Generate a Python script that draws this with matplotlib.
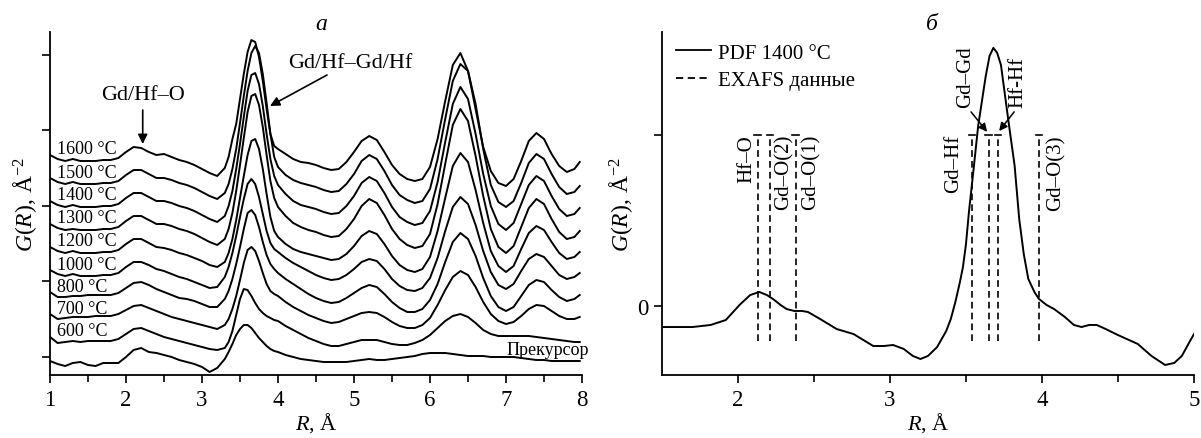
import matplotlib
matplotlib.use("Agg")
import matplotlib.pyplot as plt
from matplotlib.lines import Line2D

plt.rcParams['font.family'] = ['Liberation Serif', 'DejaVu Serif']
plt.rcParams['mathtext.fontset'] = 'custom'
plt.rcParams['mathtext.rm'] = 'Liberation Serif'
plt.rcParams['mathtext.it'] = 'Liberation Serif:italic'
plt.rcParams['mathtext.bf'] = 'Liberation Serif:bold'

# ---------------- Panel a: stacked G(R) curves (relative to each curve's start) ----------------
RA = [1.0, 1.1, 1.2, 1.3, 1.4, 1.5, 1.6, 1.7, 1.8, 1.9,
      2.0, 2.1, 2.2, 2.3, 2.4, 2.5, 2.6, 2.7, 2.8, 2.9,
      3.0, 3.1, 3.2, 3.3, 3.35, 3.4, 3.45, 3.5, 3.55, 3.6,
      3.65, 3.7, 3.75, 3.8, 3.85, 3.9, 3.95, 4.0, 4.1, 4.2,
      4.3, 4.4, 4.5, 4.6, 4.7, 4.8, 4.9, 5.0, 5.1, 5.2,
      5.3, 5.4, 5.5, 5.6, 5.7, 5.8, 5.9, 6.0, 6.1, 6.2,
      6.3, 6.4, 6.5, 6.6, 6.7, 6.8, 6.9, 7.0, 7.1, 7.2,
      7.3, 7.4, 7.5, 7.6, 7.7, 7.8, 7.9, 7.97]

g_pre = [0, -3, -5, -2, -1, -4, -5, -2, -2, -2,
         4, 11, 13, 9, 8, 6, 4, 1, -1, -3,
         -6, -11, -7, 2, 9, 17, 26, 32, 36, 36,
         33, 28, 23, 19, 15, 12, 10, 9, 6, 4,
         2, 1, 0, -1, -1, -1, -1, 0, 1, 2,
         1, 1, 2, 3, 4, 5, 7, 8, 8, 8,
         7, 6, 5, 5, 5, 4, 4, 4, 4, 3,
         2, 1, 1, 0, 0, 0, 0, 0]
g_600 = [0, -6, -5, -4, -5, -4, -4, -4, -4, -2,
         3, 8, 9, 6, 3, 0, -2, -4, -6, -8,
         -10, -12, -13, -11, -5, 6, 22, 38, 48, 47,
         41, 34, 28, 24, 21, 19, 17, 16, 11, 7,
         3, -1, -4, -7, -9, -9, -7, -5, -3, -3,
         -3, -5, -7, -8, -8, -6, -3, 2, 9, 16,
         21, 23, 20, 14, 7, 3, 1, 1, 1, 1,
         1, 0, -1, -2, -3, -4, -5, -5]
g_700 = [0, -5, -4, -3, -3, -3, -2, -2, -2, 0,
         4, 8, 9, 6, 3, 0, -3, -5, -7, -9,
         -11, -13, -15, -11, -5, 5, 18, 34, 51, 64,
         67, 63, 53, 41, 30, 23, 20, 18, 12, 7,
         3, -1, -4, -7, -9, -8, -5, -2, 1, 2,
         1, -3, -8, -12, -14, -14, -11, -4, 9, 24,
         37, 43, 39, 27, 12, 0, -7, -10, -8, -2,
         5, 9, 8, 3, -2, -5, -5, -3]
g_800 = [0, -5, -5, -4, -4, -3, -3, -3, -3, -1,
         4, 9, 10, 7, 3, 0, -3, -6, -7, -9,
         -12, -15, -15, -7, 1, 13, 28, 45, 63, 79,
         82, 77, 65, 50, 37, 28, 23, 19, 13, 8,
         3, -2, -6, -9, -11, -10, -6, -1, 4, 7,
         5, -2, -10, -16, -20, -20, -17, -8, 8, 30,
         50, 59, 53, 36, 14, -4, -15, -19, -15, -4,
         7, 12, 10, 2, -5, -9, -7, -3]
g_1000 = [0, -4, -6, -4, -6, -6, -6, -5, -5, -3,
          3, 8, 8, 5, 1, -1, -4, -7, -9, -12,
          -15, -18, -17, -7, 3, 17, 34, 53, 71, 86,
          91, 86, 73, 56, 39, 27, 21, 18, 12, 7,
          3, -1, -5, -8, -10, -9, -5, 1, 8, 11,
          9, 1, -9, -16, -20, -21, -18, -8, 12, 39,
          63, 73, 66, 45, 19, -2, -15, -19, -14, -1,
          11, 16, 13, 4, -5, -9, -7, -3]
g_1200 = [0, -4, -6, -4, -6, -6, -6, -5, -5, -3,
          3, 8, 8, 4, 0, -1, -3, -6, -8, -11,
          -14, -18, -20, -15, -6, 8, 27, 49, 71, 92,
          106, 108, 98, 78, 53, 30, 16, 10, 3, -2,
          -5, -7, -9, -11, -13, -12, -7, 1, 11, 16,
          13, 3, -9, -18, -23, -25, -22, -10, 16, 49,
          81, 94, 85, 57, 24, -4, -19, -25, -19, -2,
          14, 21, 17, 5, -6, -12, -10, -5]
g_1300 = [0, -4, -6, -5, -6, -6, -6, -5, -5, -3,
          3, 8, 8, 4, 0, 0, -2, -5, -7, -10,
          -14, -18, -21, -15, -5, 11, 33, 59, 86, 112,
          128, 130, 119, 97, 69, 43, 26, 17, 8, 1,
          -3, -6, -8, -11, -13, -12, -5, 5, 18, 25,
          21, 9, -5, -15, -21, -24, -22, -10, 20, 60,
          99, 115, 103, 68, 28, -5, -23, -29, -22, -3,
          16, 25, 20, 5, -8, -15, -13, -7]
g_1400 = [0, -4, -6, -4, -6, -6, -6, -5, -5, -3,
          3, 8, 8, 4, 0, 0, -2, -5, -7, -10,
          -14, -18, -21, -15, -5, 10, 32, 57, 84, 110,
          126, 128, 117, 95, 67, 42, 25, 16, 7, 0,
          -4, -6, -8, -11, -13, -12, -5, 5, 18, 24,
          20, 8, -6, -16, -21, -24, -22, -10, 19, 59,
          97, 114, 102, 67, 27, -5, -23, -29, -22, -3,
          16, 25, 20, 5, -8, -15, -13, -7]
g_1500 = [0, -4, -6, -4, -6, -6, -6, -5, -5, -3,
          3, 8, 8, 4, 0, 0, -2, -5, -7, -10,
          -14, -18, -21, -15, -6, 9, 29, 55, 82, 107,
          125, 132, 125, 104, 75, 44, 21, 11, 3, -2,
          -5, -7, -9, -12, -14, -13, -6, 4, 17, 23,
          19, 7, -7, -17, -22, -25, -23, -11, 19, 59,
          97, 114, 107, 74, 29, -7, -24, -29, -23, -5,
          15, 24, 19, 4, -9, -16, -14, -8]
g_1600 = [0, -4, -6, -4, -6, -6, -6, -5, -5, -3,
          3, 8, 7, 3, 0, 1, -2, -5, -7, -10,
          -14, -18, -21, -13, -2, 16, 31, 56, 81, 103,
          115, 113, 98, 74, 46, 21, 9, 6, 1, -4,
          -7, -8, -10, -13, -15, -14, -7, 3, 14, 19,
          15, 3, -10, -19, -24, -26, -24, -12, 16, 54,
          90, 102, 84, 46, 8, -16, -28, -31, -24, -6,
          14, 22, 16, 1, -11, -17, -14, -7]

curve_labels = ['Прекурсор', '600 °C', '700 °C', '800 °C', '1000 °C',
                '1200 °C', '1300 °C', '1400 °C', '1500 °C', '1600 °C']
curves = [g_pre, g_600, g_700, g_800, g_1000, g_1200, g_1300, g_1400, g_1500, g_1600]
# vertical stacking shifts (layout)
offsets = [14, 38, 61, 83, 105, 128, 151, 174, 197, 220]

# ---------------- Panel b: PDF 1400 °C and EXAFS distances ----------------
RB = [1.50, 1.70, 1.82, 1.92, 2.01, 2.08, 2.14, 2.19, 2.23, 2.28,
      2.32, 2.37, 2.42, 2.46, 2.54, 2.65, 2.76, 2.89, 2.96, 3.02,
      3.09, 3.15, 3.20, 3.25, 3.31, 3.37, 3.40, 3.43, 3.46, 3.48,
      3.50, 3.52, 3.55, 3.58, 3.63, 3.655, 3.68, 3.705, 3.73, 3.78,
      3.82, 3.85, 3.88, 3.91, 3.95, 3.98, 4.03, 4.08, 4.15, 4.21,
      4.26, 4.31, 4.36, 4.42, 4.50, 4.63, 4.72, 4.81, 4.87, 4.92,
      4.97, 5.00]
GB = [-0.123, -0.123, -0.111, -0.082, 0.006, 0.064, 0.082, 0.064, 0.041, 0.006,
      -0.018, -0.029, -0.029, -0.035, -0.076, -0.135, -0.164, -0.234, -0.234, -0.228,
      -0.251, -0.292, -0.310, -0.292, -0.240, -0.146, -0.076, 0.023, 0.140, 0.228,
      0.363, 0.556, 0.801, 1.053, 1.345, 1.462, 1.509, 1.480, 1.409, 1.076,
      0.819, 0.509, 0.304, 0.158, 0.082, 0.041, 0.006, -0.018, -0.064, -0.111,
      -0.123, -0.111, -0.111, -0.135, -0.170, -0.222, -0.292, -0.345, -0.333, -0.292,
      -0.211, -0.164]

exafs_R = [2.13, 2.21, 2.38, 3.54, 3.65, 3.71, 3.98]
exafs_labels = ['Hf–O', 'Gd–O(2)', 'Gd–O(1)', 'Gd–Hf', 'Gd–Gd', 'Hf-Hf', 'Gd–O(3)']

# ---------------- Figure ----------------
fig = plt.figure(figsize=(12.01, 4.39), dpi=100)
axL = fig.add_axes([50 / 1201, 63 / 439, 532 / 1201, 343 / 439])
axR = fig.add_axes([662 / 1201, 63 / 439, 532 / 1201, 343 / 439])

LW = 1.4
for ax in (axL, axR):
    for s in ('top', 'right'):
        ax.spines[s].set_visible(False)
    for s in ('left', 'bottom'):
        ax.spines[s].set_linewidth(1.3)
    ax.tick_params(which='major', direction='out', length=6, width=1.2,
                   labelsize=16.5, pad=4)
    ax.tick_params(which='minor', direction='out', length=5, width=1.2)

# panel a
for g, off in zip(curves, offsets):
    axL.plot(RA, [v + off for v in g], color='black', lw=LW, solid_joinstyle='round')
for lab, off in zip(curve_labels[1:], offsets[1:]):
    axL.text(1.09, off + 6, lab, fontsize=13, ha='left', va='center')
axL.text(7.55, 25.5, curve_labels[0], fontsize=13, ha='center', va='center')

axL.set_xlim(1, 8)
axL.set_ylim(0, 343)
axL.set_xticks([1, 2, 3, 4, 5, 6, 7, 8])
axL.set_xticks([1.5, 2.5, 3.5, 4.5, 5.5, 6.5, 7.5], minor=True)
axL.set_yticks([18, 94, 169, 245, 320])
axL.set_yticklabels([])
axL.set_xlabel(r'$R$, Å', fontsize=16, labelpad=0)
axL.set_ylabel(r'$G$($R$), Å$^{-2}$', fontsize=17)
axL.yaxis.set_label_coords(-0.021, 0.5)

axL.text(2.22, 280, 'Gd/Hf–O', fontsize=16, ha='center', va='center')
axL.annotate('', xy=(2.22, 231), xytext=(2.22, 265),
             arrowprops=dict(arrowstyle='-|>', color='black', lw=1.2,
                             mutation_scale=14, shrinkA=0, shrinkB=0))
axL.text(4.95, 313, 'Gd/Hf–Gd/Hf', fontsize=16, ha='center', va='center')
axL.annotate('', xy=(3.895, 269), xytext=(4.645, 300),
             arrowprops=dict(arrowstyle='-|>', color='black', lw=1.2,
                             mutation_scale=14, shrinkA=0, shrinkB=0))

# panel b
axR.plot(RB, GB, color='black', lw=LW)
DASH = (0, (4, 2.5))
for r in exafs_R:
    axR.plot([r, r], [-0.205, 1.0], color='black', lw=1.2, ls=DASH)
    axR.plot([r - 0.022, r + 0.022], [1.0, 1.0], color='black', lw=1.2)

side_dx = {'Hf–O': -0.07, 'Gd–O(2)': 0.09, 'Gd–O(1)': 0.10,
           'Gd–Hf': -0.12, 'Gd–O(3)': 0.11}
for r, lab in zip(exafs_R, exafs_labels):
    if lab in side_dx:
        axR.text(r + side_dx[lab], 1.005, lab, rotation=90, fontsize=15,
                 ha='center', va='top')
axR.text(3.50, 1.164, exafs_labels[4], rotation=90, fontsize=15, ha='center', va='bottom')
axR.text(3.843, 1.164, exafs_labels[5], rotation=90, fontsize=15, ha='center', va='bottom')
axR.annotate('', xy=(3.639, 1.018), xytext=(3.533, 1.135),
             arrowprops=dict(arrowstyle='-|>', color='black', lw=1.1,
                             mutation_scale=12, shrinkA=0, shrinkB=0))
axR.annotate('', xy=(3.718, 1.023), xytext=(3.817, 1.135),
             arrowprops=dict(arrowstyle='-|>', color='black', lw=1.1,
                             mutation_scale=12, shrinkA=0, shrinkB=0))

axR.set_xlim(1.5, 5.0)
axR.set_ylim(-0.4035, 1.602)
axR.set_xticks([2, 3, 4, 5])
axR.set_xticks([2.5, 3.5, 4.5], minor=True)
axR.set_yticks([0, 1])
axR.set_yticklabels(['0', ''])
axR.set_xlabel(r'$R$, Å', fontsize=16, labelpad=0)
axR.set_ylabel(r'$G$($R$), Å$^{-2}$', fontsize=17)
axR.yaxis.set_label_coords(-0.051, 0.5)

handles = [Line2D([], [], color='black', lw=1.3),
           Line2D([], [], color='black', lw=1.3, ls=DASH)]
axR.legend(handles, ['PDF 1400 °C', 'EXAFS данные'], loc='upper left',
           bbox_to_anchor=(0.027, 0.968), frameon=False, fontsize=15,
           handlelength=1.65, handletextpad=0.35, labelspacing=0.4,
           borderaxespad=0, borderpad=0)

fig.text(321 / 1201, 1 - 24 / 439, 'а', fontsize=17, style='italic', ha='center', va='center')
fig.text(932 / 1201, 1 - 24 / 439, 'б', fontsize=17, style='italic', ha='center', va='center')

fig.savefig('out.png', dpi=100)
